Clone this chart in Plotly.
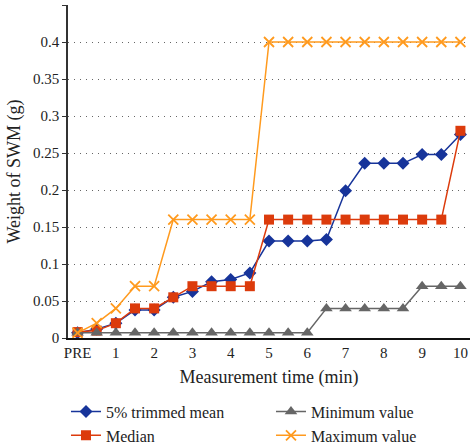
import plotly.graph_objects as go

times = ["PRE", "0.5", "1", "1.5", "2", "2.5", "3", "3.5", "4", "4.5", "5",
         "5.5", "6", "6.5", "7", "7.5", "8", "8.5", "9", "9.5", "10"]
tick_labels = ["PRE", "1", "2", "3", "4", "5", "6", "7", "8", "9", "10"]

trimmed_mean = [0.007, 0.012, 0.02, 0.038, 0.038, 0.055, 0.063, 0.076, 0.079, 0.088, 0.131,
                0.131, 0.131, 0.133, 0.199, 0.236, 0.236, 0.236, 0.248, 0.248, 0.275]
median = [0.008, 0.01, 0.02, 0.04, 0.04, 0.055, 0.07, 0.07, 0.07, 0.07, 0.16,
          0.16, 0.16, 0.16, 0.16, 0.16, 0.16, 0.16, 0.16, 0.16, 0.28]
minimum = [0.007, 0.007, 0.007, 0.007, 0.007, 0.007, 0.007, 0.007, 0.007, 0.007, 0.007,
           0.007, 0.007, 0.04, 0.04, 0.04, 0.04, 0.04, 0.07, 0.07, 0.07]
maximum = [0.007, 0.02, 0.04, 0.07, 0.07, 0.16, 0.16, 0.16, 0.16, 0.16, 0.4,
           0.4, 0.4, 0.4, 0.4, 0.4, 0.4, 0.4, 0.4, 0.4, 0.4]

FONT = "Liberation Serif"
BLUE = "#17349A"
RED = "#DC3B0C"
GRAY = "#666666"
ORANGE = "#FF9A1E"

fig = go.Figure()
fig.add_trace(go.Scatter(x=times, y=trimmed_mean, name="5% trimmed mean", mode="lines+markers",
                         line=dict(color=BLUE, width=1.5),
                         marker=dict(symbol="diamond", size=10, color=BLUE), legendrank=1))
fig.add_trace(go.Scatter(x=times, y=median, name="Median", mode="lines+markers",
                         line=dict(color=RED, width=1.5),
                         marker=dict(symbol="square", size=10, color=RED), legendrank=3))
fig.add_trace(go.Scatter(x=times, y=minimum, name="Minimum value", mode="lines+markers",
                         line=dict(color=GRAY, width=1.5),
                         marker=dict(symbol="triangle-up", size=11, color=GRAY), legendrank=2))
fig.add_trace(go.Scatter(x=times, y=maximum, name="Maximum value", mode="lines+markers",
                         line=dict(color=ORANGE, width=1.5),
                         marker=dict(symbol="x-thin", size=10, color=ORANGE,
                                     line=dict(color=ORANGE, width=1.8)), legendrank=4))

fig.update_layout(
    width=470, height=446,
    margin=dict(l=68, r=0, t=5, b=108, autoexpand=False),
    paper_bgcolor="white", plot_bgcolor="white",
    font=dict(family=FONT, size=15, color="#222222"),
    showlegend=True,
    legend=dict(orientation="h", x=-0.005, xanchor="left", y=-0.17, yanchor="top",
                entrywidth=160, entrywidthmode="pixels",
                font=dict(family=FONT, size=16, color="#222222"),
                traceorder="normal"),
    xaxis=dict(type="category", range=[-0.5, 20.5], tickvals=tick_labels, ticktext=tick_labels,
               showgrid=False, showline=True, linecolor="#111111", linewidth=1.5,
               ticks="", title=dict(text="Measurement time (min)", standoff=11),
               tickfont=dict(size=15)),
    yaxis=dict(range=[0, 0.45], dtick=0.05, showgrid=True, gridcolor="#666666",
               griddash="1px,5px", gridwidth=1, showline=True, linecolor="#333333", linewidth=1.5,
               ticks="outside", ticklen=4, tickcolor="#333333",
               title=dict(text="Weight of SWM (g)", standoff=8), zeroline=False,
               tickfont=dict(size=15)),
)

fig.write_html("out.html", config={"displayModeBar": False},
               post_script="document.body.style.margin='0';")
